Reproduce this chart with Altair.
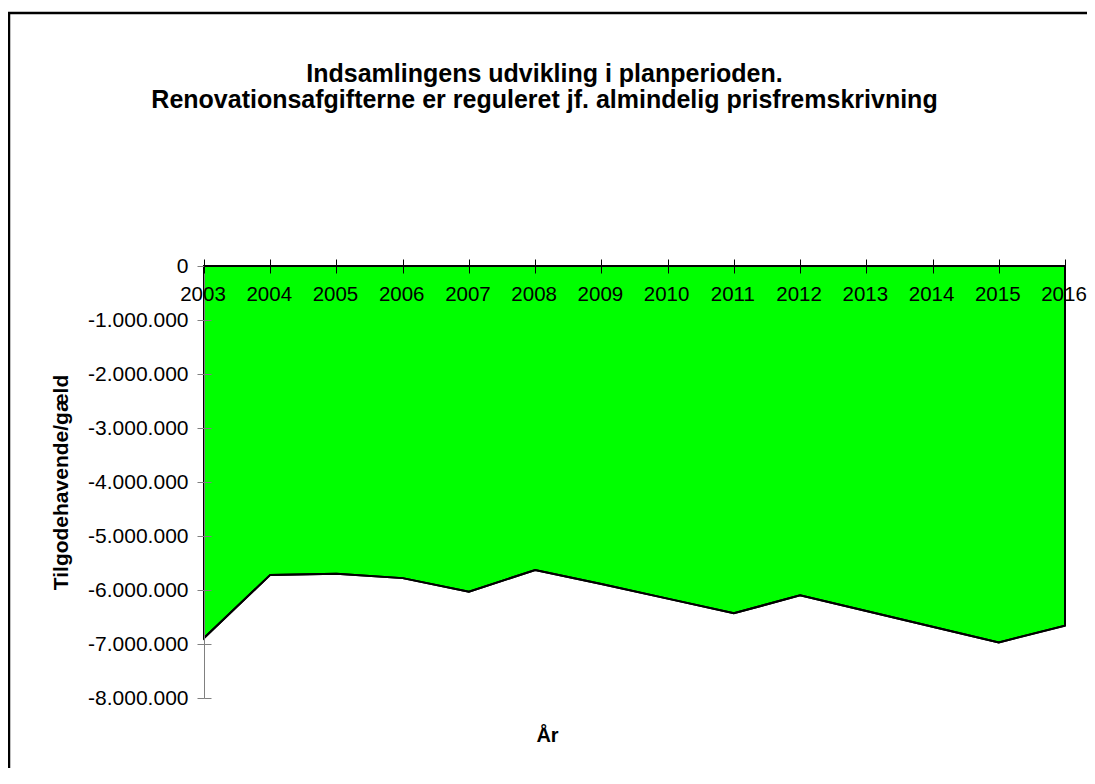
import altair as alt
import pandas as pd

years = [2003, 2004, 2005, 2006, 2007, 2008, 2009, 2010, 2011, 2012, 2013, 2014, 2015, 2016]
balance = [-6890000, -5720000, -5700000, -5780000, -6030000, -5630000, -5890000,
           -6160000, -6430000, -6100000, -6390000, -6680000, -6970000, -6660000]
title_lines = ["Indsamlingens udvikling i planperioden.",
               "Renovationsafgifterne er reguleret jf. almindelig prisfremskrivning"]
y_title = "Tilgodehavende/gæld"
x_title = "År"

df = pd.DataFrame({"year": years, "value": balance})
FONT = "Liberation Sans"
W, H = 861, 432
yticks = list(range(-8000000, 1, 1000000))

xscale = alt.Scale(domain=[2003, 2016], nice=False, zero=False)
yscale = alt.Scale(domain=[-8000000, 0], nice=False)

base = alt.Chart(df)

area = base.mark_area(color="#00ff00", stroke="black", strokeWidth=2, strokeJoin="miter").encode(
    x=alt.X("year:Q", scale=xscale,
            axis=alt.Axis(orient="bottom", offset=-H, values=years, format="d",
                          title=x_title, titleX=343, titleY=469, titleBaseline="middle",
                          titleAnchor="start", titleAlign="center",
                          titleFont=FONT, titleFontSize=20, titleFontWeight="bold",
                          labelFont=FONT, labelFontSize=20.5, labelColor="black",
                          labelPadding=11, labelOffset=-1.5, tickSize=7, tickColor="black",
                          domainColor="black", grid=False, labelFlush=False,
                          labelOverlap=False, zindex=2)),
    y=alt.Y("value:Q", scale=yscale,
            axis=alt.Axis(orient="left", values=yticks,
                          format=",d", title=y_title, titleFont=FONT, titleFontSize=21,
                          titleFontWeight="bold", titlePadding=16,
                          labelFont=FONT, labelFontSize=21, labelColor="black",
                          labelPadding=9, tickSize=7, tickColor="#808080",
                          domainColor="#808080", grid=False, labelOverlap=False, zindex=1)),
)

line = base.mark_line(color="black", strokeWidth=2).encode(
    x=alt.X("year:Q", scale=xscale,
            axis=alt.Axis(orient="top", values=years, labels=False, title=None,
                          tickSize=7, tickColor="black", domain=False, grid=False, zindex=2)),
    y=alt.Y("value:Q", scale=yscale,
            axis=alt.Axis(orient="right", offset=-W, values=yticks,
                          labels=False, title=None, tickSize=7, tickColor="#808080",
                          domain=False, grid=False, zindex=1)),
)

border = alt.Chart(pd.DataFrame({"a": [0]})).mark_rect(
    fill=None, stroke="black", strokeWidth=2.5
).encode(
    x=alt.value(-195), x2=alt.value(920), y=alt.value(-253), y2=alt.value(560)
)

chart = alt.layer(area, line, border).resolve_axis(x="independent", y="independent").properties(
    width=W, height=H,
    autosize=alt.AutoSizeParams(type="none"),
    padding={"left": 196, "top": 258, "right": 22, "bottom": 70},
    title=alt.TitleParams(title_lines, font=FONT, fontSize=25, fontWeight="bold",
                          color="black", anchor="middle", dx=-90, offset=-101,
                          lineHeight=26),
).configure(
    locale={"number": {"decimal": ",", "thousands": ".", "grouping": [3],
                       "currency": ["", " kr."], "minus": "-"}}
).configure_view(stroke=None)

chart.save("out.html", embed_options={"renderer": "svg", "actions": False})
